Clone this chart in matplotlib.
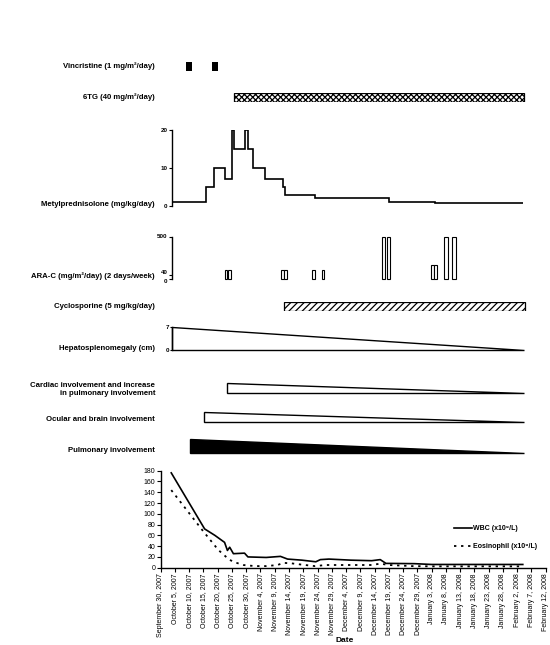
import matplotlib
matplotlib.use("Agg")
import matplotlib.pyplot as plt
from datetime import date, timedelta

plt.rcParams["font.family"] = ["Liberation Sans", "DejaVu Sans"]
plt.rcParams["hatch.linewidth"] = 0.9

# ================== DATA (days counted from Sep 30, 2007) ==================
start_date = date(2007, 9, 30)
tick_days = list(range(0, 136, 5))

vinc_day = [9.0, 17.9]
vinc_len = [2.1, 2.2]

tg_start, tg_end = 25.7, 127.4

mp_edges = [3.9, 15.8, 18.8, 22.5, 24.9, 25.8, 29.7, 30.6, 32.5, 36.7,
            42.8, 43.6, 54.0, 79.9, 96.2, 126.9]
mp_dose = [1, 5, 10, 7, 20, 15, 20, 15, 10, 7, 5, 3, 2, 1, 0.8]

ara_day = [22.4, 23.6, 42.2, 43.2, 53.2, 56.4, 77.5, 79.3, 94.7, 95.8, 99.5, 102.3]
ara_dose = [100, 100, 100, 100, 100, 100, 500, 500, 165, 165, 500, 500]
ara_len = [1.0, 1.0, 1.0, 1.0, 1.0, 1.0, 1.3, 1.3, 1.0, 1.0, 1.3, 1.3]

cyc_start, cyc_end = 43.1, 127.6

hep_start, hep_end, hep_cm = 3.9, 127.4, 7

inv_start = [23.1, 15.1, 10.4]
inv_end = [127.4, 127.4, 127.4]

wbc_day = [3.7, 15.4, 19.0, 22.4, 23.4, 24.2, 25.5, 29.4, 30.6, 37.0, 42.0,
           44.5, 49.5, 54.4, 56.0, 59.0, 66.7, 74.0, 77.0, 79.0, 89.0, 95.0, 127.0]
wbc = [176, 72, 60, 47, 32, 38, 26, 27, 20, 19, 21,
       16, 14, 11, 15, 16, 14, 13, 15, 8, 7.5, 6, 6]

eos_day = [3.7, 15.0, 20.2, 24.0, 26.0, 29.0, 33.0, 37.0, 41.0, 43.0, 46.0,
           49.0, 54.0, 58.0, 66.0, 74.0, 77.0, 80.0, 88.0, 95.0, 126.0]
eos = [144, 67, 33, 15, 10, 5, 3, 3, 5, 9, 8,
       6, 3, 5, 5, 5, 7.5, 5, 3, 2.5, 2.5]

# ================== FIGURE ==================
W, H = 550, 645
fig = plt.figure(figsize=(W / 100, H / 100), dpi=100)
fig.patch.set_facecolor("white")

X0, X1 = 160.7, 545.6
XLIM = (0, 135)


def row_axes(top, bottom):
    ax = fig.add_axes([X0 / W, 1 - bottom / H, (X1 - X0) / W, (bottom - top) / H])
    ax.set_xlim(*XLIM)
    ax.patch.set_alpha(0)
    return ax


def row_label(y, text):
    fig.text(155 / W, 1 - y / H, text, ha="right", va="center",
             fontsize=5.6, fontweight="bold", linespacing=1.25)


def left_axis_only(ax):
    for s in ["top", "right", "bottom"]:
        ax.spines[s].set_visible(False)
    ax.spines["left"].set_position(("data", hep_start))
    ax.spines["left"].set_linewidth(1.0)
    ax.set_xticks([])
    ax.tick_params(axis="y", length=2.5, width=0.8, pad=0.5, labelsize=4.5)
    for t in ax.get_yticklabels():
        t.set_fontweight("bold")


# ---------- Vincristine ----------
ax = row_axes(62, 71)
ax.bar(vinc_day, 1, width=vinc_len, align="edge", color="black")
ax.set_ylim(0, 1)
ax.axis("off")
row_label(66.5, "Vincristine (1 mg/m²/day)")

# ---------- 6TG ----------
ax = row_axes(92.6, 102.4)
ax.barh(0.5, tg_end - tg_start, left=tg_start, height=1, facecolor="white",
        edgecolor="black", hatch="xxxxxx", linewidth=0.9)
ax.set_ylim(0, 1)
ax.axis("off")
row_label(97.5, "6TG (40 mg/m²/day)")

# ---------- Methylprednisolone ----------
ax = row_axes(130, 206)
ax.stairs(mp_dose, mp_edges, color="black", linewidth=1.2, baseline=None)
ax.set_ylim(0, 20)
ax.set_yticks([0, 10, 20])
left_axis_only(ax)
row_label(205, "Metylprednisolone (mg/kg/day)")

# ---------- ARA-C ----------
ax = row_axes(236.5, 278.6)
ax.bar(ara_day, ara_dose, width=ara_len, align="edge", facecolor="white",
       edgecolor="black", linewidth=0.8, clip_on=False)
ax.set_ylim(0, 500)
ax.set_yticks([0, 40, 500])
left_axis_only(ax)
ylabs = ax.get_yticklabels()
ylabs[0].set_verticalalignment("top")
ylabs[1].set_verticalalignment("bottom")
row_label(276, "ARA-C (mg/m²/day) (2 days/week)")

# ---------- Cyclosporine ----------
ax = row_axes(301.8, 310.5)
ax.barh(0.5, cyc_end - cyc_start, left=cyc_start, height=1, facecolor="white",
        edgecolor="black", hatch="/////", linewidth=0.9)
ax.set_ylim(0, 1)
ax.axis("off")
row_label(307, "Cyclosporine (5 mg/kg/day)")

# ---------- Hepatosplenomegaly ----------
ax = row_axes(326.5, 350.3)
ax.fill([hep_start, hep_start, hep_end], [hep_cm, 0, 0],
        facecolor="white", edgecolor="black", linewidth=1.0, clip_on=False)
ax.set_ylim(0, hep_cm)
ax.set_yticks([0, hep_cm])
left_axis_only(ax)
ax.tick_params(axis="y", length=1.5)
row_label(349, "Hepatosplenomegaly (cm)")

# ---------- Involvement triangles ----------
inv_rows = [(382.6, 392.5), (411.8, 422.0), (438.8, 452.8)]
inv_fill = ["white", "white", "black"]
inv_text = ["Cardiac involvement and increase\nin pulmonary involvement",
            "Ocular and brain involvement",
            "Pulmonary involvement"]
inv_label_y = [389.5, 419.5, 450]
for (top, bot), s, e, fc, txt, ly in zip(inv_rows, inv_start, inv_end,
                                         inv_fill, inv_text, inv_label_y):
    ax = row_axes(top, bot)
    ax.fill([s, s, e], [1, 0, 0], facecolor=fc, edgecolor="black",
            linewidth=1.0, clip_on=False)
    ax.set_ylim(0, 1)
    ax.axis("off")
    row_label(ly, txt)

# ================== WBC / EOSINOPHIL ==================
ax = row_axes(470.7, 567.7)
ax.plot(wbc_day, wbc, color="black", linewidth=1.2, label="WBC (x10⁹/L)")
ax.plot(eos_day, eos, color="black", linewidth=1.3, linestyle=(0, (1.3, 2.6)),
        label="Eosinophil (x10⁹/L)")
ax.set_ylim(0, 180)
ax.set_yticks(range(0, 181, 20))
ax.set_xticks(tick_days)
tick_dates = [start_date + timedelta(days=d) for d in tick_days]
ax.set_xticklabels([f"{d:%B} {d.day}, {d.year}" for d in tick_dates])
ax.tick_params(axis="x", labelrotation=90, labelsize=5, length=3, width=0.8, pad=1)
ax.tick_params(axis="y", labelsize=5, length=3, width=0.8, pad=1)
for s in ["top", "right"]:
    ax.spines[s].set_visible(False)
for s in ["left", "bottom"]:
    ax.spines[s].set_linewidth(1.0)
ax.legend(loc="center right", bbox_to_anchor=(0.995, 0.31), frameon=False,
          prop={"size": 5, "weight": "bold"}, handlelength=2.6,
          handletextpad=0.2, labelspacing=1.6)

fig.text(345 / W, 1 - 644 / H, "Date", ha="center", va="bottom",
         fontsize=6, fontweight="bold")

fig.savefig("out.png", dpi=100, facecolor="white")
